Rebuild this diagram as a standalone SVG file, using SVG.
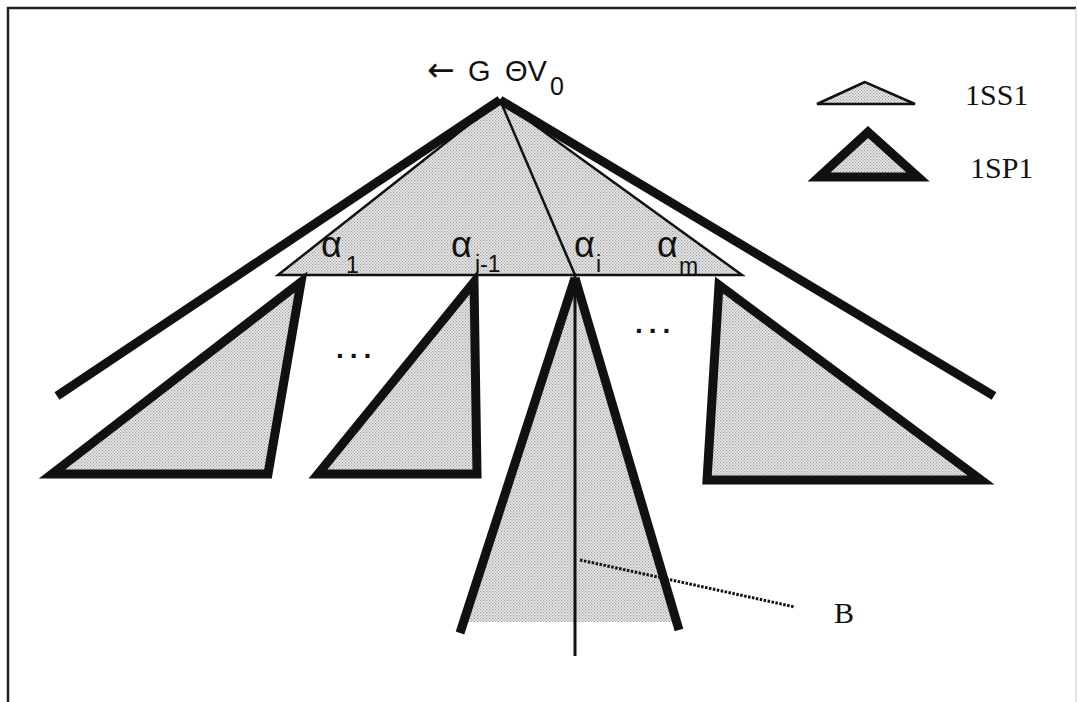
<svg xmlns="http://www.w3.org/2000/svg" width="1078" height="702" viewBox="0 0 1078 702">
<style>
.thin{fill:none;stroke:#111;stroke-width:2.5}
.thick{fill:none;stroke:#111;stroke-width:9;stroke-linejoin:miter}
.tri{fill:url(#stip);stroke:#111;stroke-width:9;stroke-linejoin:miter}
.ltri{fill:url(#stip);stroke:#111;stroke-width:2.5;stroke-linejoin:miter}
.sans{font-family:"Liberation Sans",Arial,sans-serif;fill:#111}
.serif{font-family:"Liberation Serif","Times New Roman",serif;fill:#111}
.al{font-size:36px}
.sub{font-size:23px}
.dots{font-size:28px;font-weight:bold;letter-spacing:6px}
</style>
<defs>
<pattern id="stip" width="3" height="3" patternUnits="userSpaceOnUse">
<rect width="3" height="3" fill="#ececec"/>
<rect x="0" y="0" width="1.2" height="1.2" fill="#9a9a9a"/>
<rect x="1.5" y="1.5" width="1.2" height="1.2" fill="#9a9a9a"/>
</pattern>
</defs>
<rect width="1078" height="702" fill="#fff"/>
<g id="frame">
<path d="M8,702 V8 H1076" fill="none" stroke="#222" stroke-width="2.5"/>
<path d="M1076,8 V702" fill="none" stroke="#ccc" stroke-width="1"/>
</g>
<g id="center-subtree">
<polygon points="575,278 463,622 676,622" fill="url(#stip)"/>
</g>
<g id="root-triangle">
<polygon class="ltri" points="500,100 278,275 742,275"/>
</g>
<g id="subtree-1">
<polygon class="tri" points="301,282 52,474 268,474"/>
</g>
<g id="subtree-i-1">
<polygon class="tri" points="474,282 318,474 477,474"/>
</g>
<g id="subtree-m">
<polygon class="tri" points="719,285 707,480 981,480"/>
</g>
<g id="connectors">
<line class="thick" x1="500" y1="100" x2="57" y2="396"/>
<line class="thick" x1="500" y1="100" x2="994" y2="396"/>
<line class="thin" x1="500" y1="100" x2="575" y2="275"/>
<line class="thick" x1="575" y1="278" x2="460" y2="633"/>
<line class="thick" x1="575" y1="278" x2="679" y2="630"/>
<line x1="575" y1="275" x2="575" y2="656" stroke="#111" stroke-width="3"/>
<line x1="580" y1="560" x2="795" y2="607" stroke="#111" stroke-width="3" stroke-dasharray="2.5 1.5"/>
</g>
<g id="labels">
<text x="427" y="81" font-size="33" font-family="DejaVu Sans,sans-serif" fill="#111">←</text>
<text class="sans" x="468" y="81" font-size="29">G</text>
<text class="sans" x="505" y="81" font-size="29">ΘV</text>
<text class="sans" x="550" y="95" font-size="25">0</text>
<text class="sans al" x="321" y="257">α</text>
<text class="sans sub" x="346" y="273">1</text>
<text class="sans al" x="451" y="257">α</text>
<text class="sans sub" x="475" y="272">i-1</text>
<text class="sans al" x="574" y="257">α</text>
<text class="sans sub" x="596" y="272">i</text>
<text class="sans al" x="657" y="257">α</text>
<text class="sans sub" x="679" y="274">m</text>
<text class="sans dots" x="336" y="358">...</text>
<text class="sans dots" x="635" y="333">...</text>
<text class="serif" x="834" y="623" font-size="30">B</text>
</g>
<g id="legend-1SS1">
<polygon class="ltri" points="865,82 817,104 915,104"/>
<text class="serif" x="965" y="105" font-size="30">1SS1</text>
</g>
<g id="legend-1SP1">
<polygon class="tri" points="868,132 819,177 918,177"/>
<text class="serif" x="970" y="178" font-size="30">1SP1</text>
</g>
</svg>
